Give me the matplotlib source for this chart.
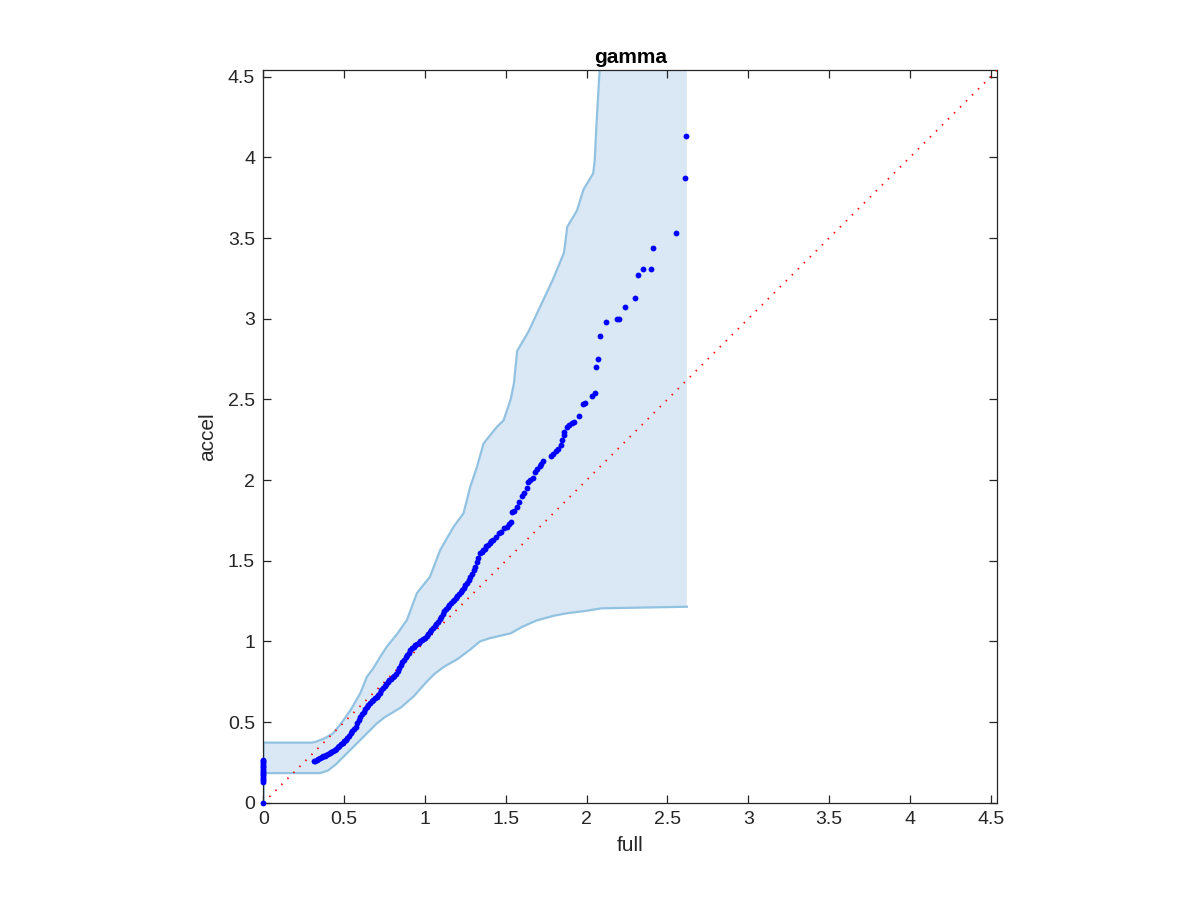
import numpy as np
import matplotlib
matplotlib.use("Agg")
import matplotlib.pyplot as plt

plt.rcParams['font.family'] = ['Liberation Sans', 'DejaVu Sans']

# -----------------------------
# Data (full vs accel quantiles)
# -----------------------------
zero_full = [0, 0, 0, 0, 0, 0, 0, 0, 0, 0, 0, 0, 0, 0, 0, 0]
zero_accel = [0.0, 0.13, 0.14, 0.15, 0.16, 0.17, 0.18, 0.19, 0.20, 0.21,
              0.22, 0.23, 0.24, 0.25, 0.26, 0.265]

full = [0.31, 0.32, 0.33, 0.34, 0.35, 0.36, 0.37, 0.38, 0.39, 0.40,
        0.41, 0.42, 0.43, 0.44, 0.45, 0.46, 0.47, 0.48, 0.49, 0.50,
        0.51, 0.52, 0.53, 0.54, 0.55, 0.56, 0.57, 0.58, 0.59, 0.60,
        0.61, 0.62, 0.63, 0.64, 0.65, 0.66, 0.67, 0.68, 0.69, 0.70,
        0.71, 0.72, 0.73, 0.74, 0.75, 0.76, 0.77, 0.78, 0.79, 0.80,
        0.81, 0.82, 0.83, 0.84, 0.85, 0.86, 0.87, 0.88, 0.89, 0.90,
        0.91, 0.92, 0.93, 0.94, 0.95, 0.96, 0.97, 0.98, 0.99, 1.00,
        1.01, 1.02, 1.03, 1.04, 1.05, 1.06, 1.07, 1.08, 1.09, 1.10,
        1.11, 1.12, 1.13, 1.14, 1.15, 1.16, 1.17, 1.18, 1.19, 1.20,
        1.21, 1.22, 1.23, 1.24, 1.25, 1.26, 1.27, 1.28, 1.29, 1.30,
        1.31, 1.32, 1.33, 1.34, 1.35, 1.36, 1.37, 1.38, 1.39, 1.40,
        1.41, 1.42, 1.44, 1.46, 1.47, 1.49, 1.51, 1.52, 1.53, 1.54,
        1.55, 1.57, 1.58, 1.60, 1.61, 1.63, 1.64, 1.65, 1.67, 1.68,
        1.69, 1.71, 1.72, 1.73, 1.78, 1.79, 1.81, 1.82, 1.84, 1.85,
        1.86, 1.86, 1.88, 1.89, 1.91, 1.92, 1.95, 1.98, 1.99, 2.03,
        2.05, 2.06, 2.07, 2.08, 2.12, 2.19, 2.20, 2.24, 2.30, 2.32,
        2.35, 2.40, 2.41, 2.55, 2.61, 2.615]
accel = [0.256, 0.262, 0.266, 0.270, 0.275, 0.281, 0.287, 0.292, 0.297, 0.302,
         0.307, 0.312, 0.318, 0.326, 0.335, 0.344, 0.353, 0.362, 0.371, 0.380,
         0.392, 0.404, 0.416, 0.430, 0.443, 0.455, 0.472, 0.492, 0.513, 0.534,
         0.550, 0.565, 0.580, 0.596, 0.608, 0.618, 0.628, 0.638, 0.648, 0.658,
         0.670, 0.683, 0.697, 0.711, 0.725, 0.738, 0.748, 0.758, 0.768, 0.778,
         0.788, 0.798, 0.815, 0.835, 0.855, 0.873, 0.888, 0.902, 0.916, 0.930,
         0.944, 0.957, 0.968, 0.976, 0.984, 0.992, 1.000, 1.008, 1.016, 1.024,
         1.032, 1.045, 1.058, 1.072, 1.085, 1.098, 1.108, 1.122, 1.138, 1.154,
         1.170, 1.186, 1.202, 1.215, 1.226, 1.238, 1.249, 1.259, 1.270, 1.280,
         1.295, 1.308, 1.320, 1.332, 1.348, 1.365, 1.383, 1.401, 1.420, 1.440,
         1.462, 1.490, 1.518, 1.545, 1.556, 1.567, 1.575, 1.590, 1.600, 1.612,
         1.622, 1.630, 1.645, 1.670, 1.680, 1.700, 1.712, 1.730, 1.742, 1.800,
         1.810, 1.835, 1.866, 1.900, 1.918, 1.950, 1.990, 2.000, 2.010, 2.050,
         2.070, 2.090, 2.100, 2.120, 2.150, 2.160, 2.180, 2.190, 2.220, 2.250,
         2.280, 2.300, 2.330, 2.340, 2.355, 2.360, 2.400, 2.470, 2.480, 2.520,
         2.540, 2.700, 2.750, 2.890, 2.980, 3.000, 3.000, 3.070, 3.130, 3.270,
         3.310, 3.310, 3.440, 3.530, 3.870, 4.130]

upper_x = [0, 0, 0.30, 0.33, 0.38, 0.43, 0.48, 0.54, 0.60, 0.64,
           0.68, 0.72, 0.764, 0.83, 0.888, 0.95, 1.03, 1.094, 1.177, 1.238,
           1.28, 1.321, 1.362, 1.445, 1.486, 1.53, 1.55, 1.57, 1.64, 1.71,
           1.79, 1.86, 1.88, 1.94, 1.98, 2.04, 2.05, 2.06, 2.08, 2.09,
           2.62]
upper_y = [0, 0.373, 0.373, 0.38, 0.40, 0.43, 0.49, 0.576, 0.68, 0.78,
           0.834, 0.90, 0.968, 1.05, 1.133, 1.30, 1.40, 1.567, 1.711, 1.794,
           1.959, 2.08, 2.227, 2.33, 2.37, 2.50, 2.60, 2.80, 2.92, 3.07,
           3.24, 3.41, 3.57, 3.67, 3.80, 3.90, 3.98, 4.19, 4.54, 6.0,
           6.0]

lower_x = [0, 0, 0.35, 0.40, 0.45, 0.50, 0.55, 0.60, 0.65, 0.70,
           0.75, 0.80, 0.85, 0.93, 1.01, 1.06, 1.12, 1.20, 1.28, 1.34,
           1.40, 1.53, 1.60, 1.69, 1.80, 1.88, 2.00, 2.09, 2.35, 2.62]
lower_y = [0, 0.184, 0.184, 0.20, 0.24, 0.29, 0.34, 0.39, 0.44, 0.49,
           0.53, 0.56, 0.59, 0.66, 0.75, 0.80, 0.845, 0.89, 0.95, 1.00,
           1.02, 1.05, 1.09, 1.13, 1.16, 1.175, 1.19, 1.205, 1.21, 1.215]

ticks = [0, 0.5, 1, 1.5, 2, 2.5, 3, 3.5, 4, 4.5]
tick_labels = ["0", "0.5", "1", "1.5", "2", "2.5", "3", "3.5", "4", "4.5"]
lim = 4.54

# -----------------------------
# Figure
# -----------------------------
fig = plt.figure(figsize=(12, 9), dpi=100)
ax = fig.add_axes([0.2195, 0.108, 0.6115, 0.814])

# band
poly_x = upper_x[1:] + lower_x[::-1][:-1]
poly_y = upper_y[1:] + lower_y[::-1][:-1]
ax.fill(poly_x, poly_y, color='#d9e8f4', lw=0, zorder=1)
ax.plot(upper_x[:-2], upper_y[:-2], color='#92c2e1', lw=1.6, zorder=2)
ax.plot(lower_x, lower_y, color='#92c2e1', lw=1.6, zorder=2)

# reference line
ax.plot([0, lim], [0, lim], color='red', lw=1.3, linestyle=(0, (0.8, 3.9)),
        zorder=3)

# quantile points
ax.plot(zero_full, zero_accel, 'o', color='blue', ms=4.2, mew=0, zorder=4,
        clip_on=False)
ax.plot(full, accel, 'o', color='blue', ms=4.2, mew=0, zorder=4)

ax.set_xlim(0, lim)
ax.set_ylim(0, lim)
ax.set_xticks(ticks)
ax.set_xticklabels(tick_labels)
ax.set_yticks(ticks)
ax.set_yticklabels(tick_labels)
ax.tick_params(direction='in', length=6, width=0.9, colors='#262626',
               labelsize=14, top=True, right=True, pad=6)
for s in ax.spines.values():
    s.set_color('#262626')
    s.set_linewidth(0.9)

ax.set_xlabel("full", fontsize=15, color='#262626', labelpad=6)
ax.set_ylabel("accel", fontsize=15, color='#262626', labelpad=8)
ax.set_title("gamma", fontsize=15, fontweight='bold', pad=5)

fig.savefig("out.png", dpi=100)
